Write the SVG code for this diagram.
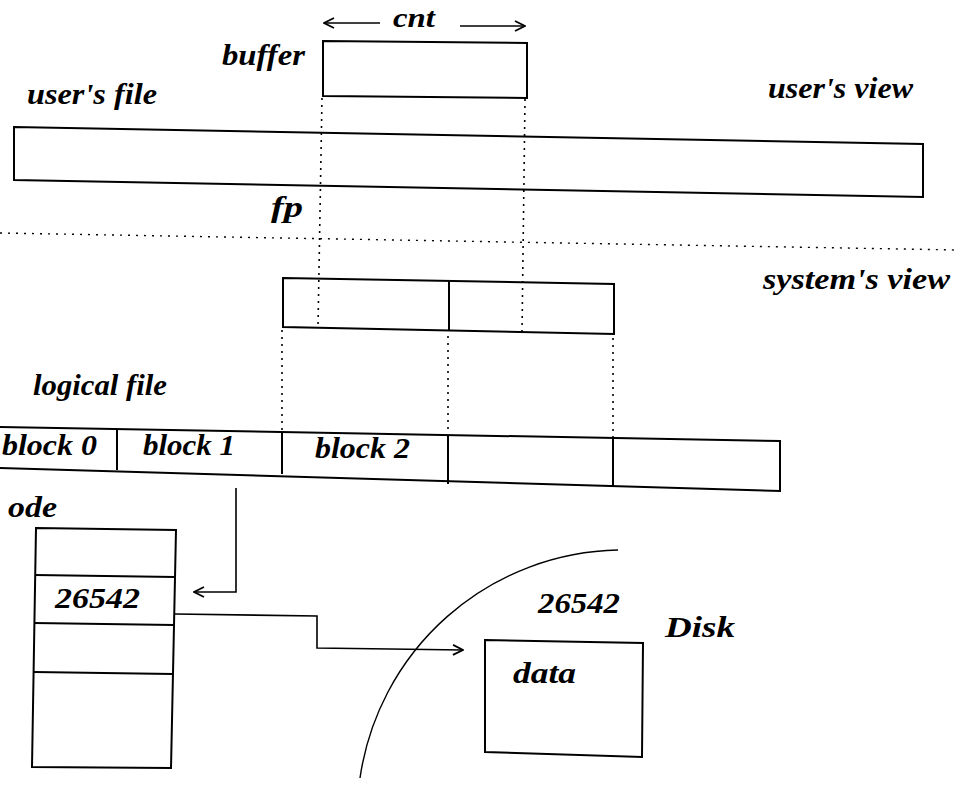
<svg xmlns="http://www.w3.org/2000/svg" width="961" height="786" viewBox="0 0 961 786">
<style>
.box{fill:none;stroke:#000;stroke-width:2;stroke-linejoin:miter}
.ln{fill:none;stroke:#000;stroke-width:1.6}
.dotv{fill:none;stroke:#000;stroke-width:1.6;stroke-dasharray:2 5}
.doth{fill:none;stroke:#000;stroke-width:1.4;stroke-dasharray:2 6}
.arc{fill:none;stroke:#000;stroke-width:1.4}
text{font-family:"Liberation Serif","Times New Roman",serif;font-style:italic;font-weight:bold;font-size:30px;fill:#000}
</style>
<defs>
<marker id="ah" viewBox="0 0 12 12" refX="11" refY="6" markerWidth="12" markerHeight="12" markerUnits="userSpaceOnUse" orient="auto">
<path d="M1,1 L11,6 L1,11" fill="none" stroke="#000" stroke-width="1.8"/>
</marker>
</defs>
<rect width="961" height="786" fill="#fff"/>

<g id="labels">
<text x="393" y="27" textLength="42" lengthAdjust="spacingAndGlyphs" style="font-size:27px">cnt</text>
<text x="222" y="65" textLength="83" lengthAdjust="spacingAndGlyphs">buffer</text>
<text x="27" y="104" textLength="130" lengthAdjust="spacingAndGlyphs">user's file</text>
<text x="768" y="98" textLength="145" lengthAdjust="spacingAndGlyphs">user's view</text>
<text x="271" y="217" textLength="32" lengthAdjust="spacingAndGlyphs">fp</text>
<text x="763" y="289" textLength="187" lengthAdjust="spacingAndGlyphs">system's view</text>
<text x="33" y="395" textLength="134" lengthAdjust="spacingAndGlyphs">logical file</text>
<text x="8" y="517" textLength="49" lengthAdjust="spacingAndGlyphs">ode</text>
<text x="538" y="613" textLength="82" lengthAdjust="spacingAndGlyphs">26542</text>
<text x="665" y="637" textLength="70" lengthAdjust="spacingAndGlyphs">Disk</text>
</g>

<g id="buffer">
<polygon class="box" points="323,41 527,43 527,98 323,96"/>
</g>

<g id="users-file">
<polygon class="box" points="14,127 923,144 923,197 14,180"/>
</g>

<g id="system-buffer">
<polygon class="box" points="283,278 614,284 614,334 283,327"/>
<line class="box" x1="449" y1="281" x2="449" y2="331"/>
</g>

<g id="logical-file">
<polyline class="box" points="0,427 780,441 780,491 0,468"/>
<line class="box" x1="117" y1="429" x2="117" y2="470"/>
<line class="box" x1="282" y1="432" x2="282" y2="474"/>
<line class="box" x1="448" y1="435" x2="448" y2="484"/>
<line class="box" x1="613" y1="438" x2="613" y2="487"/>
<text x="2" y="455" textLength="95" lengthAdjust="spacingAndGlyphs">block 0</text>
<text x="143" y="455" textLength="92" lengthAdjust="spacingAndGlyphs">block 1</text>
<text x="315" y="458" textLength="95" lengthAdjust="spacingAndGlyphs">block 2</text>
</g>

<g id="inode">
<polygon class="box" points="36,528 176,530 171,768 32,767"/>
<line class="box" x1="35" y1="575" x2="175" y2="577"/>
<line class="box" x1="34" y1="623" x2="174" y2="625"/>
<line class="box" x1="34" y1="672" x2="173" y2="674"/>
<text x="55" y="608" textLength="85" lengthAdjust="spacingAndGlyphs">26542</text>
</g>

<g id="disk">
<path class="arc" d="M360,778 A266,266 0 0 1 618,550"/>
</g>

<g id="data-block">
<polygon class="box" points="485,640 643,643 642,757 485,752"/>
<text x="513" y="683" textLength="63" lengthAdjust="spacingAndGlyphs">data</text>
</g>

<g id="connectors">
<line class="ln" x1="380" y1="23" x2="324" y2="23" marker-end="url(#ah)"/>
<line class="ln" x1="460" y1="26" x2="525" y2="26" marker-end="url(#ah)"/>
<line class="doth" x1="0" y1="233" x2="958" y2="250"/>
<line class="dotv" x1="322" y1="98" x2="318" y2="327"/>
<line class="dotv" x1="525" y1="99" x2="522" y2="333"/>
<line class="dotv" x1="282" y1="330" x2="282" y2="430"/>
<line class="dotv" x1="448" y1="336" x2="448" y2="434"/>
<line class="dotv" x1="613" y1="338" x2="613" y2="437"/>
<polyline class="ln" points="236,488 236,592 194,592" marker-end="url(#ah)"/>
<polyline class="ln" points="175,614 317,616 317,648 463,650" marker-end="url(#ah)"/>
</g>
</svg>
